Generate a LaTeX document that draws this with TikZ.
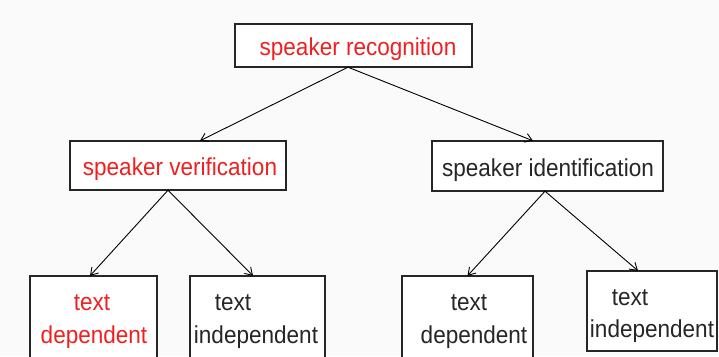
\documentclass[tikz,border=0pt]{standalone}
\usepackage{fontspec}
\setmainfont{Liberation Sans}[FakeStretch=0.92]
\usetikzlibrary{arrows.meta}
\definecolor{labelred}{RGB}{240,32,32}
\begin{document}
\begin{tikzpicture}[x=1pt,y={(0,-1pt)},
  box/.style={draw=black!85,line width=1.3pt,fill=white},
  lbl/.style={font=\fontsize{24.5}{28}\selectfont,inner sep=0pt,anchor=base,text=black!85},
  hot/.style={text=labelred},
  link/.style={line width=0.9pt,-{Straight Barb[length=7pt,width=9pt,line width=0.9pt]}}]
\useasboundingbox[fill=black!2] (0,0) rectangle (719,356);

% boxes
\draw[box] (235,24) rectangle (472,67);
\node[inner sep=0pt] (rec) at (353.5,45.5) [minimum width=237pt,minimum height=43pt] {};
\draw[box] (70,141) rectangle (286,190);
\node[inner sep=0pt] (ver) at (178,165.5) [minimum width=216pt,minimum height=49pt] {};
\draw[box] (432,141) rectangle (663,191);
\node[inner sep=0pt] (ide) at (547.5,166) [minimum width=231pt,minimum height=50pt] {};
\draw[box] (30,276) rectangle (157,366);
\node[inner sep=0pt] (vtd) at (93.5,321) [minimum width=127pt,minimum height=90pt] {};
\draw[box] (190,276) rectangle (325,366);
\node[inner sep=0pt] (vti) at (257.5,321) [minimum width=135pt,minimum height=90pt] {};
\draw[box] (402,276) rectangle (533,366);
\node[inner sep=0pt] (itd) at (467.5,321) [minimum width=131pt,minimum height=90pt] {};
\draw[box] (587,271) rectangle (717,351);
\node[inner sep=0pt] (iti) at (652,311) [minimum width=130pt,minimum height=80pt] {};

% labels
\node[lbl,hot] (trec) at (358,55) {speaker recognition};
\node[lbl,hot] (tver) at (180,175) {speaker verification};
\node[lbl] (tide) at (548,176) {speaker identification};
\node[lbl,hot] (tvtd1) at (92,310) {text};
\node[lbl,hot] (tvtd2) at (94,343) {dependent};
\node[lbl] (tvti1) at (233,310) {text};
\node[lbl] (tvti2) at (256,343) {independent};
\node[lbl] (titd1) at (469,310) {text};
\node[lbl] (titd2) at (474,343) {dependent};
\node[lbl] (titi1) at (630,305) {text};
\node[lbl] (titi2) at (652,337) {independent};

% connectors
\draw[link] ([xshift=-5.5pt]rec.south) -- ([xshift=22pt]ver.north);
\draw[link] ([xshift=-5.5pt]rec.south) -- ([xshift=-14.5pt]ide.north);
\draw[link] ([xshift=-10pt]ver.south) -- ([xshift=-3.5pt]vtd.north);
\draw[link] ([xshift=-10pt]ver.south) -- ([xshift=-4.5pt]vti.north);
\draw[link] ([xshift=-2.5pt]ide.south) -- ([xshift=0pt]itd.north);
\draw[link] ([xshift=-2.5pt]ide.south) -- ([xshift=-14pt]iti.north);
\end{tikzpicture}
\end{document}
